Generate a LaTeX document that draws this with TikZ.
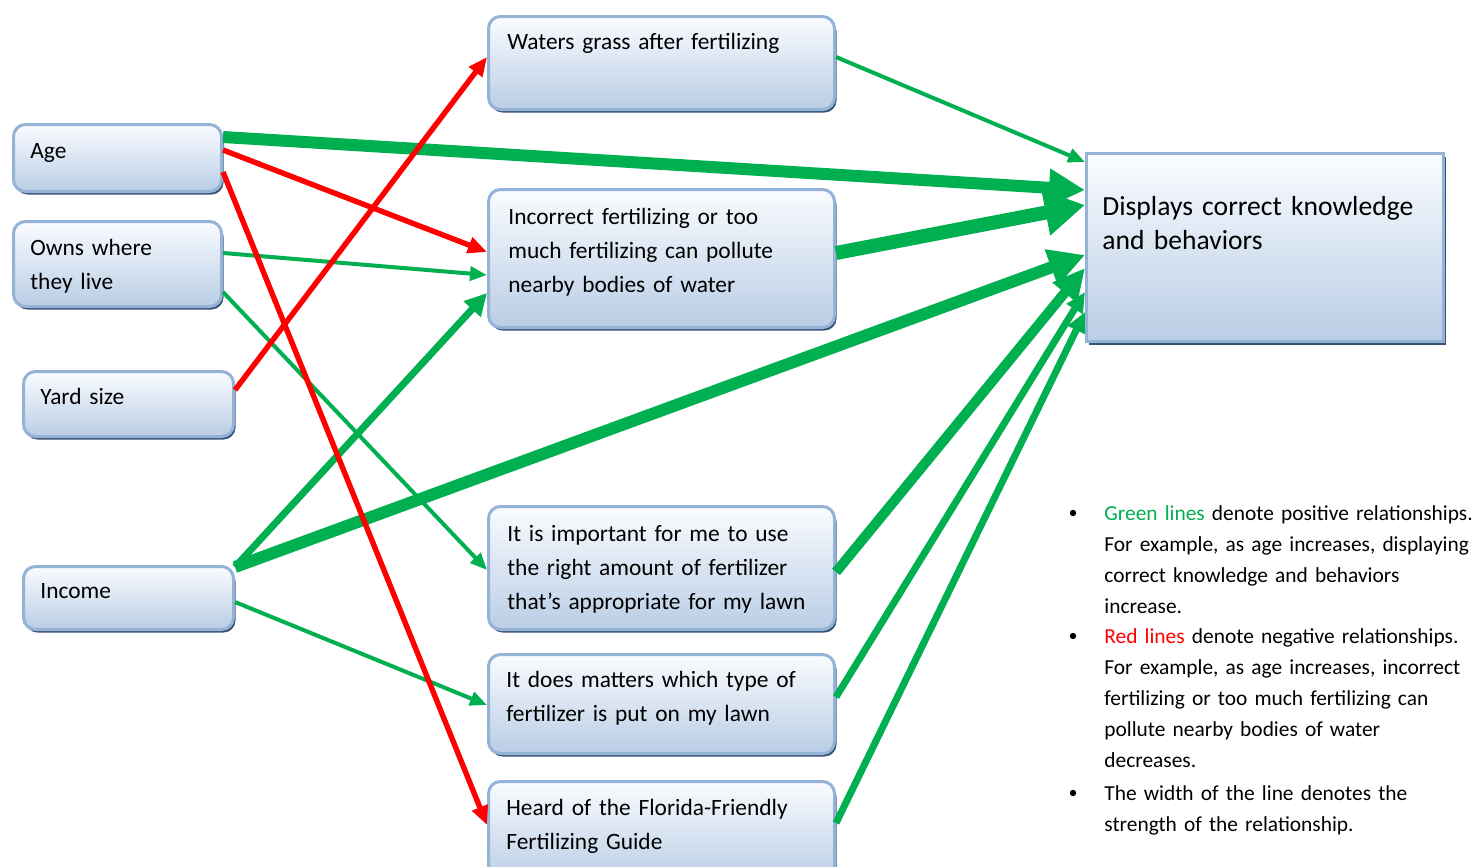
\documentclass[tikz,border=0pt]{standalone}
\usepackage{fontspec}
\setmainfont{Carlito}
\usetikzlibrary{arrows.meta,shadows,calc}
\definecolor{gline}{RGB}{0,176,80}
\definecolor{rline}{RGB}{255,0,0}
\definecolor{boxbot}{RGB}{185,205,229}
\definecolor{boxtop}{RGB}{250,252,255}
\definecolor{boxedge}{RGB}{149,179,215}
\definecolor{boxshadow}{RGB}{56,83,120}
\begin{document}
\begin{tikzpicture}[x=0.5pt,y=-0.5pt,
  boxbase/.style={draw=boxedge, line width=1.5pt, top color=boxtop, bottom color=boxbot,
    anchor=north west, inner sep=0pt,
    drop shadow={shadow xshift=1pt, shadow yshift=-1.5pt, fill=boxshadow, opacity=1}},
  box/.style={boxbase, rounded corners=6pt},
  tbox/.style={anchor=north west, inner sep=0pt, align=left, text width=190pt,
    font=\fontsize{11.7pt}{17pt}\selectfont, execute at begin node=\strut},
  legtxt/.style={anchor=north west, inner sep=0pt, align=left, text width=200pt,
    font=\fontsize{10.7pt}{15.5pt}\selectfont, execute at begin node=\strut},
  bul/.style={circle, fill=black, inner sep=0pt, minimum size=3.2pt},
  gthin/.style={draw=gline, line width=2pt, -{Triangle[length=8.5pt,width=7pt]}},
  gmed/.style={draw=gline, line width=3.5pt, -{Triangle[length=11pt,width=11pt]}},
  gmed2/.style={draw=gline, line width=3.5pt, -{Triangle[length=10pt,width=9pt]}},
  gbig/.style={draw=gline, line width=5pt, -{Triangle[length=16pt,width=15pt]}},
  gbig2/.style={draw=gline, line width=6pt, -{Triangle[length=18pt,width=18pt]}},
  gbig3/.style={draw=gline, line width=7pt, -{Triangle[length=20pt,width=22pt]}},
  rarr/.style={draw=rline, line width=2.7pt, -{Triangle[length=9.5pt,width=8pt]}},
]
\useasboundingbox (0,0) rectangle (1478,867);
\clip (0,0) rectangle (1478,867);

% boxes
\node[box, minimum width=104pt, minimum height=33.5pt] (age) at (12,123) {};
\node[box, minimum width=104pt, minimum height=42.5pt] (owns) at (12,220) {};
\node[box, minimum width=105pt, minimum height=32.5pt] (yard) at (22,370) {};
\node[box, minimum width=105pt, minimum height=31.5pt] (income) at (22,565) {};
\node[box, minimum width=173pt, minimum height=46.5pt] (waters) at (487,15) {};
\node[box, minimum width=173pt, minimum height=69pt] (incorrect) at (487,188) {};
\node[box, minimum width=173pt, minimum height=61.5pt] (important) at (487,505) {};
\node[box, minimum width=173pt, minimum height=49.5pt] (matters) at (487,653) {};
\node[box, minimum width=173pt, minimum height=50pt] (heard) at (487,780) {};
\node[boxbase, minimum width=178.5pt, minimum height=94pt] (displays) at (1085,152) {};

% box texts
\node[tbox] (agetxt) at (30,134) {Age};
\node[tbox] (ownstxt) at (30,231) {Owns where\\they live};
\node[tbox] (yardtxt) at (40,380) {Yard size};
\node[tbox] (incometxt) at (40,574) {Income};
\node[tbox] (waterstxt) at (507,25) {Waters grass after fertilizing};
\node[tbox] (incorrecttxt) at (508,200) {Incorrect fertilizing or too\\much fertilizing can pollute\\nearby bodies of water};
\node[tbox] (importanttxt) at (507,517) {It is important for me to use\\the right amount of fertilizer\\that’s appropriate for my lawn};
\node[tbox] (matterstxt) at (506,663) {It does matters which type of\\fertilizer is put on my lawn};
\node[tbox] (heardtxt) at (506,791) {Heard of the Florida-Friendly\\Fertilizing Guide};
\node[tbox, font=\fontsize{13.8pt}{17pt}\selectfont] (displaystxt) at (1102,191) {Displays correct knowledge\\and behaviors};

% connectors to the outcome
\draw[gbig2] ($(age.north east)+(0,14)$) -- ($(displays.north west)+(0,38)$);
\draw[gthin] ($(waters.north east)+(0,42)$) -- ($(displays.north west)+(0,10)$);
\draw[gbig3] ($(incorrect.north east)+(0,65)$) -- ($(displays.north west)+(0,53)$);
\draw[gbig2] ($(income.north east)+(0,2)$) -- ($(displays.north west)+(0,103)$);
\draw[gbig] ($(important.north east)+(0,67)$) -- ($(displays.north west)+(0,116)$);
\draw[gmed2] ($(matters.north east)+(0,44)$) -- ($(displays.north west)+(0,140)$);
\draw[gmed2] ($(heard.north east)+(0,43)$) -- ($(displays.north west)+(0,160)$);

% connectors to the mediators
\draw[gthin] ($(owns.north east)+(0,33)$) -- ($(incorrect.north west)+(0,87)$);
\draw[gthin] ($(owns.north east)+(0,72)$) -- ($(important.north west)+(0,65)$);
\draw[gmed] ($(income.north east)+(0,2)$) -- ($(incorrect.north west)+(0,105)$);
\draw[gthin] ($(income.north east)+(0,37)$) -- ($(matters.north west)+(0,52)$);
\draw[rarr] ($(yard.north east)+(0,20)$) -- ($(waters.north west)+(0,42)$);
\draw[rarr] ($(age.north east)+(0,27)$) -- ($(incorrect.north west)+(0,64)$);
\draw[rarr] ($(age.north east)+(0,49)$) -- ($(heard.north west)+(0,45)$);

% legend
\node[bul] (b1) at (1073,513) {};
\node[bul] (b2) at (1073,636) {};
\node[bul] (b3) at (1073,793) {};
\node[legtxt] (leg1) at (1104,498) {\textcolor{gline}{Green lines} denote positive relationships.\\For example, as age increases, displaying\\correct knowledge and behaviors\\increase.};
\node[legtxt] (leg2) at (1104,621) {\textcolor{rline}{Red lines} denote negative relationships.\\For example, as age increases, incorrect\\fertilizing or too much fertilizing can\\pollute nearby bodies of water\\decreases.};
\node[legtxt] (leg3) at (1104,778) {The width of the line denotes the\\strength of the relationship.};
\end{tikzpicture}
\end{document}
